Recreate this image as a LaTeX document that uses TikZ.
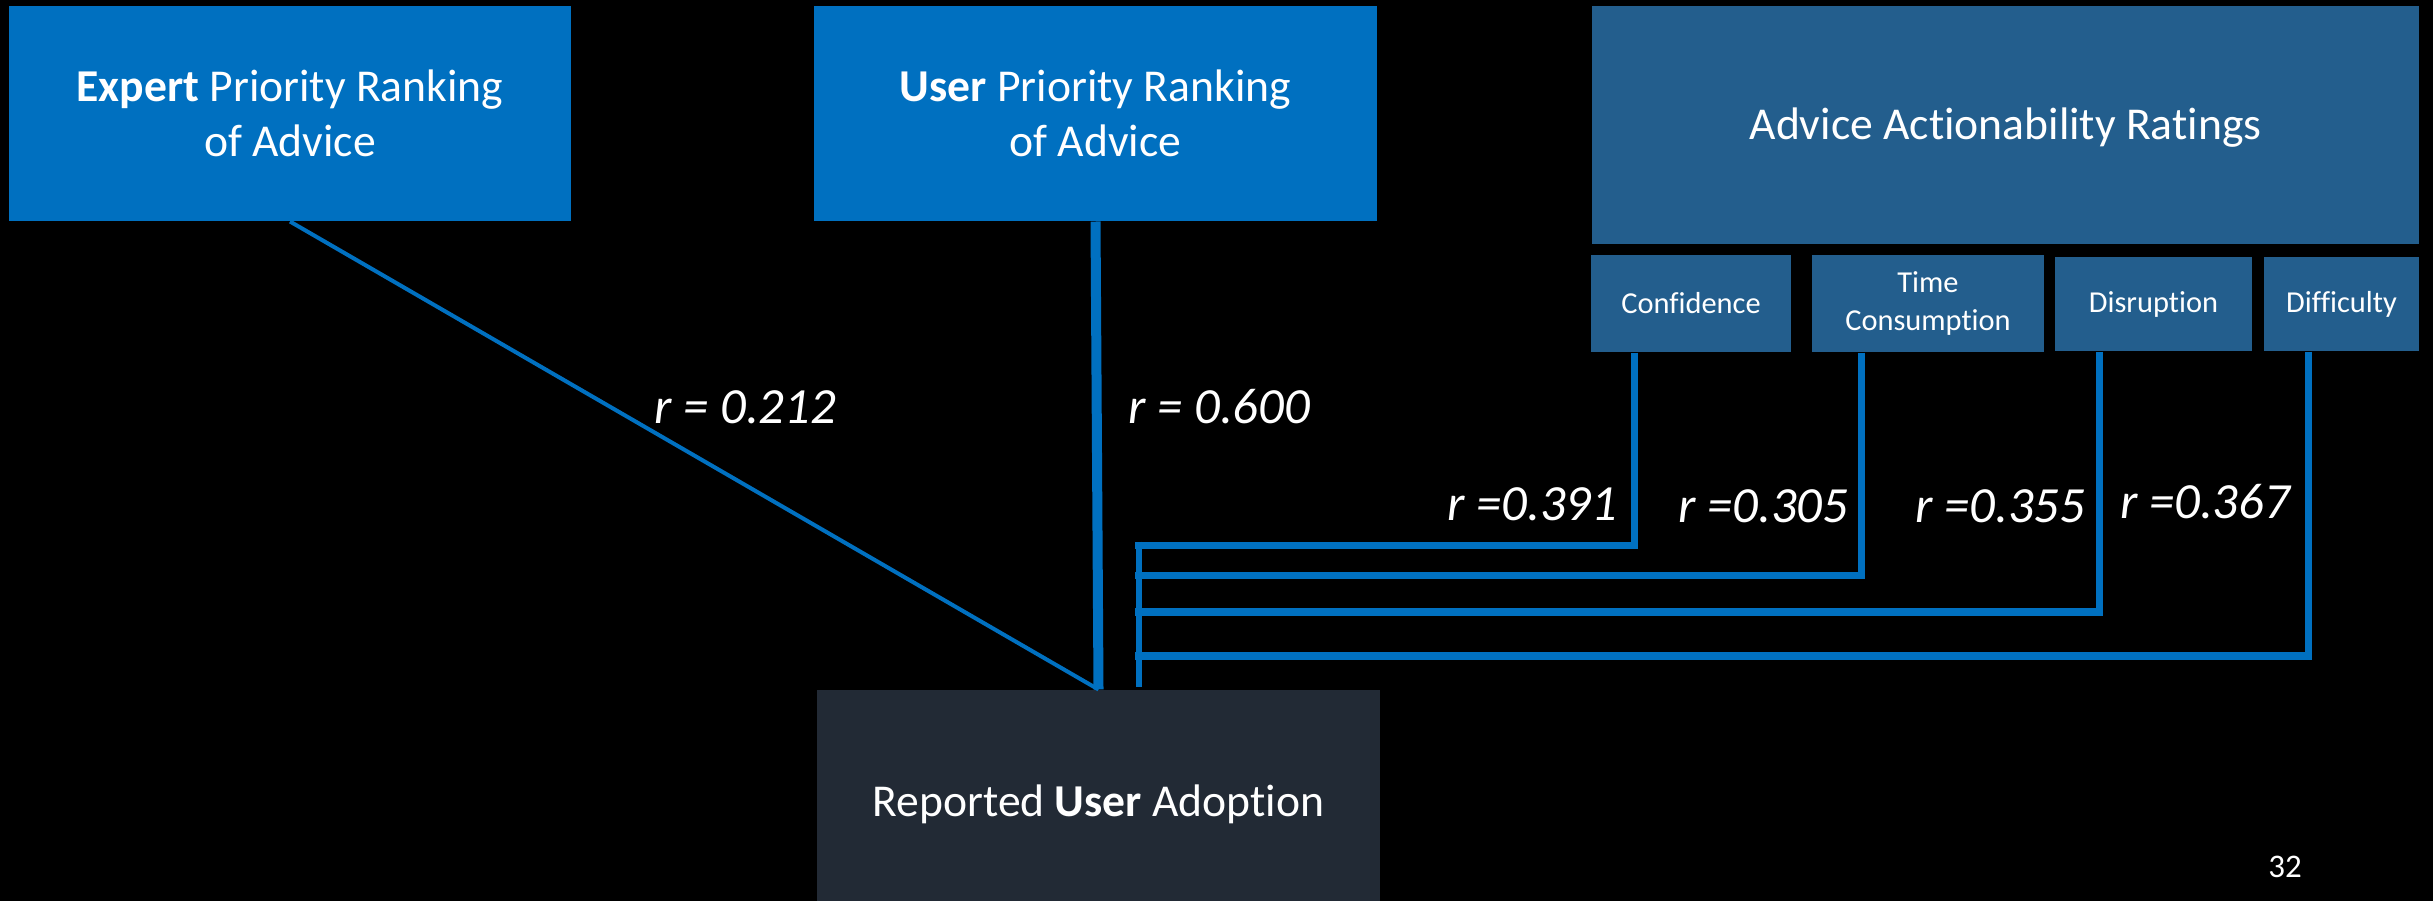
\documentclass[tikz,border=0pt]{standalone}
\usepackage{fontspec}
\setmainfont{Carlito}[Ligatures={NoCommon,NoContextual,NoRare},Contextuals={NoAlternate}]
\definecolor{bluebox}{HTML}{0070C0}
\definecolor{ratebox}{HTML}{235E8D}
\definecolor{darkbox}{HTML}{222A35}
\definecolor{link}{HTML}{0070C0}
\newcommand\pxu{0.3946pt}
\begin{document}
\begin{tikzpicture}[x=0.3946pt,y=-0.3946pt,
  box/.style={draw=none,inner sep=0pt,align=center,text=white,font=\fontsize{18}{21.6}\selectfont},
  subbox/.style={draw=none,fill=ratebox,inner sep=0pt,align=center,text=white,font=\fontsize{12}{15}\selectfont},
  rlab/.style={text=white,inner sep=0pt,anchor=base,font=\fontsize{20}{24}\selectfont\itshape},
  thin/.style={draw=link,line width=4*\pxu},
  thick/.style={draw=link,line width=10*\pxu},
  busline/.style={draw=link,line width=7.5*\pxu,line cap=rect},
  drop/.style={draw=link,line width=7*\pxu}]
\fill[black] (0,0) rectangle (2433,901);
\useasboundingbox (0,0) rectangle (2433,901);

% top boxes
\node[box,fill=bluebox,minimum width=562*\pxu,minimum height=215*\pxu] (expert) at (290,113.5)
  {\textbf{Expert} Priority Ranking\\of Advice};
\node[box,fill=bluebox,minimum width=563*\pxu,minimum height=215*\pxu] (user) at (1095.5,113.5)
  {\textbf{User} Priority Ranking\\of Advice};
\node[box,fill=ratebox,minimum width=827*\pxu,minimum height=238*\pxu] (advice) at (2005.5,125)
  {\raisebox{-5.9pt}[0pt][0pt]{Advice Actionability Ratings}};

% rating dimensions
\node[subbox,minimum width=200*\pxu,minimum height=97*\pxu] (conf) at (1691,303.5) {Confidence};
\node[subbox,minimum width=232*\pxu,minimum height=97*\pxu] (time) at (1928,303.5) {Time\\Consumption};
\node[subbox,minimum width=197*\pxu,minimum height=94*\pxu] (disr) at (2153.5,304) {Disruption};
\node[subbox,minimum width=155*\pxu,minimum height=94*\pxu] (diff) at (2341.5,304) {Difficulty};

% outcome box, running off the lower edge
\node[box,fill=darkbox,minimum width=563*\pxu,minimum height=229*\pxu] (adopt) at (1098.5,804.5)
  {Reported \textbf{User} Adoption};

% direct correlations
\draw[thin] (expert.south) -- (adopt.north);
\draw[thick] (user.south) -- (adopt.north);

% drop points under each rating and bus joints
\coordinate (j1) at (1634,352);
\coordinate (j2) at (1861,352);
\coordinate (j3) at (2099,350);
\coordinate (j4) at (2308,350);
\coordinate (k1) at (1139,545.5);
\coordinate (k2) at (1139,575.5);
\coordinate (k3) at (1139,612);
\coordinate (k4) at (1139,656);

\draw[drop] (conf.south -| j1) |- (k1);
\draw[drop] (time.south -| j2) |- (k2);
\draw[drop] (disr.south -| j3) |- (k3);
\draw[drop] (diff.south -| j4) |- (k4);
\draw[busline] (j1 |- k1) -- (k1);
\draw[busline] (j2 |- k2) -- (k2);
\draw[busline] (j3 |- k3) -- (k3);
\draw[busline] (j4 |- k4) -- (k4);
\draw[draw=link,line width=6*\pxu] ([yshift=4*\pxu]k1) -- ([yshift=2*\pxu]adopt.north -| k1);

% correlation labels
\node[rlab] (l1) at (745.5,423) {r = 0.212};
\node[rlab] (l2) at (1219.5,423) {r = 0.600};
\node[rlab] (l3) at (1532.5,520) {r =0.391};
\node[rlab] (l4) at (1763.5,522) {r =0.305};
\node[rlab] (l5) at (2000.5,522) {r =0.355};
\node[rlab] (l6) at (2205,518) {r =0.367};

% slide number
\node[text=white,inner sep=0pt,anchor=base,font=\fontsize{13}{15}\selectfont] (pg) at (2285,877) {32};
\end{tikzpicture}
\end{document}
